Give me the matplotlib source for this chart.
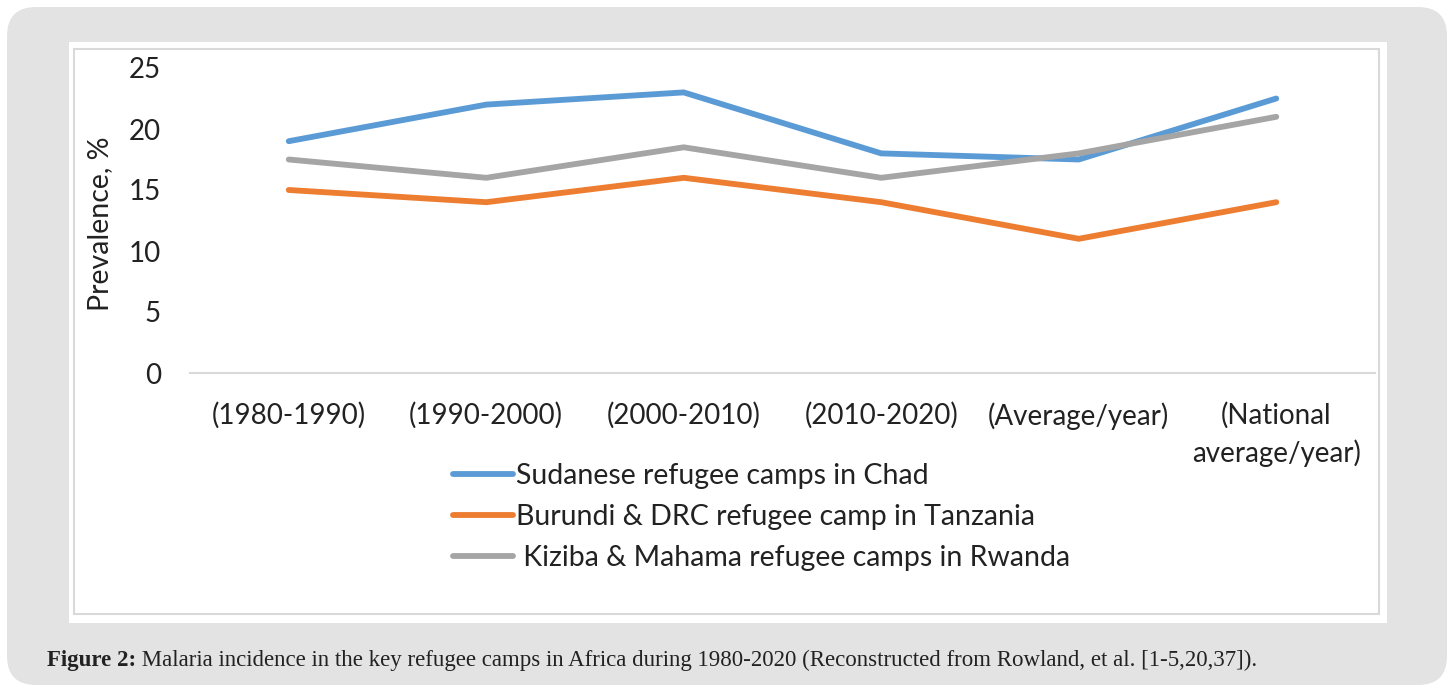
"""Malaria prevalence in refugee camps, redrawn as an Excel-style line chart."""
import matplotlib
matplotlib.use("Agg")
import matplotlib.pyplot as plt
from matplotlib.patches import FancyBboxPatch, Rectangle

# --- data ---
periods = ["(1980-1990)", "(1990-2000)", "(2000-2010)", "(2010-2020)",
           "(Average/year)", "(National\naverage/year)"]
chad = [19, 22, 23, 18, 17.5, 22.5]
tanzania = [15, 14, 16, 14, 11, 14]
rwanda = [17.5, 16, 18.5, 16, 18, 21]
series_labels = ["Sudanese refugee camps in Chad",
                 "Burundi & DRC refugee camp in Tanzania",
                 " Kiziba & Mahama refugee camps in Rwanda"]
series_colors = ["#5B9BD5", "#ED7D31", "#A5A5A5"]
y_ticks = [0, 5, 10, 15, 20, 25]
caption_bold = "Figure 2:"
caption_rest = (" Malaria incidence in the key refugee camps in Africa during "
                "1980-2020 (Reconstructed from Rowland, et al. [1-5,20,37]).")

W, H = 1452, 688
FONT = "Lato"
TXT = "#222222"
plt.rcParams["font.family"] = [FONT, "DejaVu Sans"]

fig = plt.figure(figsize=(W / 100, H / 100), dpi=100)
fig.patch.set_facecolor("white")


def px(x, y):
    """pixel (top-left origin) -> figure fraction"""
    return x / W, 1 - y / H


# gray rounded panel, white chart box, thin inner border
fig.patches.append(FancyBboxPatch((7 / W, 3 / H), 1440 / W, 678 / H,
                                  boxstyle="round,pad=0,rounding_size=0.02",
                                  transform=fig.transFigure, facecolor="#E3E3E3",
                                  edgecolor="none", zorder=0, mutation_aspect=W / H))
fig.patches.append(Rectangle(px(69, 623), 1318 / W, 581 / H, transform=fig.transFigure,
                             facecolor="white", edgecolor="none", zorder=1))
fig.patches.append(Rectangle(px(74, 614), 1305 / W, 565 / H, transform=fig.transFigure,
                             facecolor="white", edgecolor="#D9D9D9", linewidth=1.5,
                             zorder=2))

# axes: y=0 at px 373, y=25 at px 68; x from 190 to 1375
ax = fig.add_axes([190 / W, 1 - 373 / H, 1185 / W, 305 / H])
ax.set_zorder(3)
ax.patch.set_alpha(0)

x = range(len(periods))
for vals, lab, col in zip([chad, tanzania, rwanda], series_labels, series_colors):
    ax.plot(x, vals, color=col, linewidth=4.2, solid_capstyle="round", label=lab)

ax.set_xlim(-0.5, len(periods) - 0.5)
ax.set_ylim(0, 25)
ax.set_yticks(y_ticks)
ax.set_xticks(list(x))
ax.set_xticklabels(periods, fontsize=20, linespacing=1.45)
ax.tick_params(axis="y", length=0, pad=21, labelsize=20)
ax.tick_params(axis="x", length=0, pad=21)
for lbl in ax.get_yticklabels() + ax.get_xticklabels():
    lbl.set_color(TXT)
for side in ["top", "right", "left"]:
    ax.spines[side].set_visible(False)
ax.spines["bottom"].set_color("#D9D9D9")
ax.spines["bottom"].set_linewidth(1.5)

fig.text(100 / W, 1 - 224 / H, "Prevalence, %", rotation=90, fontsize=20.5,
         ha="center", va="center", color=TXT)

leg = fig.legend(loc="upper left", bbox_to_anchor=px(453, 463), frameon=False,
                 fontsize=20.5, handlelength=2.1, handletextpad=0.1,
                 labelspacing=0.52, borderpad=0, borderaxespad=0)
for t in leg.get_texts():
    t.set_color(TXT)
for h in leg.legend_handles:
    h.set_linewidth(4.2)

cap = fig.text(47 / W, 1 - 666 / H, caption_bold, fontsize=16.5, fontweight="bold",
               family="Liberation Serif", color=TXT, va="baseline")
fig.canvas.draw()
bb = cap.get_window_extent()
fig.text(bb.x1 / W, 1 - 666 / H, caption_rest, fontsize=16.5,
         family="Liberation Serif", color=TXT, va="baseline")

fig.savefig("out.png", dpi=100)
